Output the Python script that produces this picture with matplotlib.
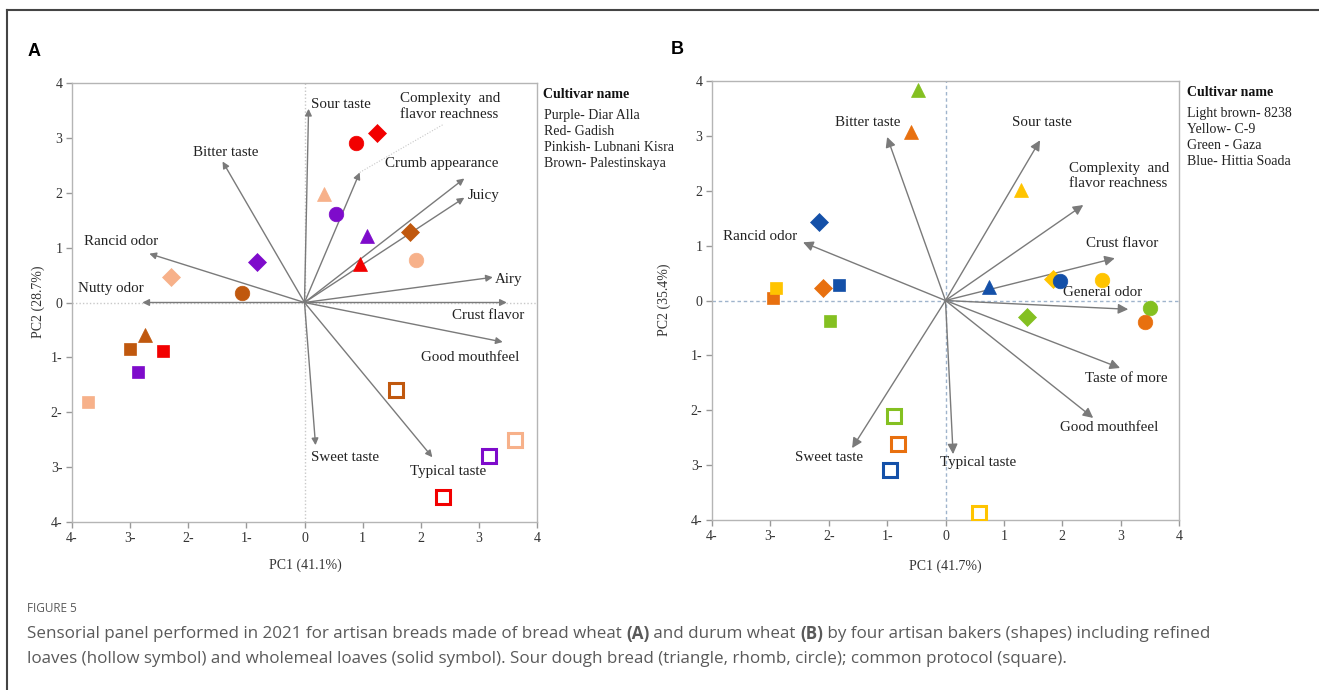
import matplotlib
matplotlib.use('Agg')
import matplotlib.pyplot as plt
from matplotlib.lines import Line2D

W, H = 1319, 690
SERIF = ['Liberation Serif', 'DejaVu Serif']
SANS = ['Open Sans', 'DejaVu Sans']

# ---- panel A data (bread wheat) ----
a_colors = {'purple': '#7E0BCB', 'red': '#F20000', 'pink': '#F7B18A', 'brown': '#C0580E'}
a_cult = ['red', 'red', 'pink', 'purple', 'purple', 'brown', 'red', 'pink', 'purple', 'pink',
          'brown', 'brown', 'brown', 'red', 'purple', 'pink', 'brown', 'pink', 'purple', 'red']
a_mark = ['D', 'o', '^', 'o', '^', 'D', '^', 'o', 'D', 'D',
          'o', '^', 's', 's', 's', 's', 's', 's', 's', 's']
a_hollow = [0] * 16 + [1, 1, 1, 1]
a_x = [1.25, 0.89, 0.34, 0.55, 1.07, 1.81, 0.96, 1.91, -0.81, -2.29,
       -1.07, -2.75, -3.01, -2.43, -2.87, -3.73, 1.58, 3.63, 3.18, 2.38]
a_y = [3.08, 2.90, 1.97, 1.62, 1.22, 1.28, 0.71, 0.78, 0.73, 0.47,
       0.18, -0.60, -0.84, -0.89, -1.27, -1.82, -1.59, -2.51, -2.80, -3.55]

a_var = ['Sour taste', 'Bitter taste', 'Rancid odor', 'Nutty odor', 'Complexity', 'Crumb appearance',
         'Juicy', 'Airy', 'Crust flavor', 'Good mouthfeel', 'Sweet taste', 'Typical taste']
a_vx = [0.07, -1.41, -2.67, -2.79, 0.95, 2.75, 2.75, 3.24, 3.48, 3.41, 0.19, 2.20]
a_vy = [3.53, 2.57, 0.89, 0.00, 2.37, 2.26, 1.91, 0.46, 0.00, -0.72, -2.60, -2.82]

# label text, x, y, ha
a_labels = [('Sour taste', 0.12, 3.61, 'left'),
            ('Complexity  and\nflavor reachness', 1.64, 3.57, 'left'),
            ('Bitter taste', -1.36, 2.73, 'center'),
            ('Crumb appearance', 1.39, 2.53, 'left'),
            ('Juicy', 2.80, 1.95, 'left'),
            ('Rancid odor', -3.80, 1.11, 'left'),
            ('Nutty odor', -3.89, 0.26, 'left'),
            ('Airy', 3.27, 0.42, 'left'),
            ('Crust flavor', 3.79, -0.24, 'right'),
            ('Good mouthfeel', 3.70, -1.00, 'right'),
            ('Sweet taste', 0.12, -2.82, 'left'),
            ('Typical taste', 1.81, -3.08, 'left')]
a_legend = ['Purple- Diar Alla', 'Red- Gadish', 'Pinkish- Lubnani Kisra', 'Brown- Palestinskaya']

# ---- panel B data (durum wheat) ----
b_colors = {'orange': '#E8700F', 'yellow': '#FFC400', 'green': '#84C021', 'blue': '#1450A8'}
b_cult = ['green', 'orange', 'blue', 'orange', 'yellow', 'orange', 'blue', 'green', 'green', 'orange',
          'blue', 'yellow', 'yellow', 'blue', 'yellow', 'blue', 'yellow', 'green', 'orange', 'green']
b_mark = ['^', '^', 'D', 's', 's', 'D', 's', 's', 's', 's',
          's', 's', '^', '^', 'D', 'o', 'o', 'o', 'o', 'D']
b_hollow = [0] * 8 + [1, 1, 1, 1] + [0] * 8
b_x = [-0.47, -0.59, -2.17, -2.95, -2.90, -2.10, -1.82, -1.98, -0.88, -0.81,
       -0.95, 0.57, 1.29, 0.75, 1.84, 1.96, 2.68, 3.50, 3.42, 1.39]
b_y = [3.83, 3.07, 1.43, 0.05, 0.23, 0.23, 0.28, -0.37, -2.10, -2.61,
       -3.09, -3.87, 2.01, 0.25, 0.39, 0.36, 0.37, -0.14, -0.39, -0.30]

b_var = ['Bitter taste', 'Rancid odor', 'Sour taste', 'Complexity', 'Crust flavor',
         'General odor', 'Taste of more', 'Good mouthfeel', 'Sweet taste', 'Typical taste']
b_vx = [-1.00, -2.44, 1.62, 2.36, 2.90, 3.13, 2.99, 2.53, -1.60, 0.13]
b_vy = [2.98, 1.06, 2.92, 1.74, 0.77, -0.16, -1.23, -2.14, -2.69, -2.80]

b_labels = [('Bitter taste', -1.89, 3.25, 'left'),
            ('Rancid odor', -3.81, 1.16, 'left'),
            ('Sour taste', 1.14, 3.25, 'left'),
            ('Complexity  and\nflavor reachness', 2.11, 2.27, 'left'),
            ('Crust flavor', 2.41, 1.03, 'left'),
            ('General odor', 2.01, 0.14, 'left'),
            ('Taste of more', 2.39, -1.43, 'left'),
            ('Good mouthfeel', 1.96, -2.32, 'left'),
            ('Sweet taste', -2.58, -2.87, 'left'),
            ('Typical taste', -0.09, -2.96, 'left')]
b_legend = ['Light brown- 8238', 'Yellow- C-9', 'Green - Gaza', 'Blue- Hittia Soada']

ticks = [-4, -3, -2, -1, 0, 1, 2, 3, 4]
tick_labels = ['4-', '3-', '2-', '1-', '0', '1', '2', '3', '4']
ytick_labels = tick_labels


def fx(px):
    return px / W


def fy(py):
    return 1 - py / H


fig = plt.figure(figsize=(W / 100, H / 100), dpi=100)

# outer frame lines of the figure box
fig.add_artist(Line2D([fx(7), fx(7)], [0, fy(10)], color='#444444', lw=1.5))
fig.add_artist(Line2D([fx(7), 1], [fy(10), fy(10)], color='#444444', lw=1.5))


def make_axes(rect, cols, cult, mark, hollow, xs, ys, vx, vy, labels, head, zcolor, zstyle):
    ax = fig.add_axes(rect)
    ax.set_xlim(-4, 4)
    ax.set_ylim(-4, 4)
    for s in ax.spines.values():
        s.set_color('#b5b5b5')
        s.set_linewidth(1.0)
    ax.set_xticks(ticks)
    ax.set_xticklabels(tick_labels, fontfamily=SERIF, fontsize=10)
    ax.set_yticks(ticks)
    ax.set_yticklabels(ytick_labels, fontfamily=SERIF, fontsize=10)
    ax.tick_params(colors='#333333', length=4, width=1, pad=3)
    ax.tick_params(axis='both', color='#999999')
    ax.axhline(0, color=zcolor, lw=1, ls=zstyle, zorder=1)
    ax.axvline(0, color=zcolor, lw=1, ls=zstyle, zorder=1)

    for dx, dy in zip(vx, vy):
        ax.annotate('', xy=(dx, dy), xytext=(0, 0),
                    arrowprops=dict(arrowstyle='-|>', color='#7a7a7a', lw=1.0,
                                    mutation_scale=head, shrinkA=0, shrinkB=0),
                    zorder=2)
    for txt, tx, ty, ha in labels:
        ax.text(tx, ty, txt, ha=ha, va='center', fontfamily=SERIF, fontsize=10.8,
                color='#222222', linespacing=1.25, zorder=3)

    sizes = {'s': 9, 'o': 10.5, '^': 10, 'D': 9}
    for c, m, h, x, y in zip(cult, mark, hollow, xs, ys):
        if h:
            ax.plot(x, y, marker='s', ms=10, mfc='white', mec=cols[c], mew=2.2,
                    ls='none', zorder=4)
        else:
            ax.plot(x, y, marker=m, ms=sizes[m], mfc=cols[c], mec=cols[c], mew=0.5,
                    ls='none', zorder=4)
    return ax


axA = make_axes([fx(72), fy(522), fx(537) - fx(72), fy(83) - fy(522)],
                a_colors, a_cult, a_mark, a_hollow, a_x, a_y, a_vx, a_vy, a_labels,
                10, '#c8c8c8', (0, (1, 1.5)))
# leader line from the complexity arrow to its label
axA.plot([a_vx[4], 2.38], [a_vy[4], 3.24], color='#c8c8c8', lw=0.8, ls=(0, (1, 1.5)), zorder=1)

axB = make_axes([fx(712), fy(520), fx(1179) - fx(712), fy(81) - fy(520)],
                b_colors, b_cult, b_mark, b_hollow, b_x, b_y, b_vx, b_vy, b_labels,
                15, '#9fb4cc', (0, (2.5, 2)))

# axis titles
fig.text(fx(305), fy(565), 'PC1 (41.1%)', ha='center', va='center', fontfamily=SERIF, fontsize=10, color='#333333')
fig.text(fx(38), fy(302), 'PC2 (28.7%)', ha='center', va='center', rotation=90, fontfamily=SERIF, fontsize=10, color='#333333')
fig.text(fx(945), fy(566), 'PC1 (41.7%)', ha='center', va='center', fontfamily=SERIF, fontsize=10, color='#333333')
fig.text(fx(664), fy(300), 'PC2 (35.4%)', ha='center', va='center', rotation=90, fontfamily=SERIF, fontsize=10, color='#333333')

# panel letters
fig.text(fx(28), fy(52), 'A', ha='left', va='center', fontfamily=['Liberation Sans', 'DejaVu Sans'],
         fontweight='bold', fontsize=13)
fig.text(fx(671), fy(50), 'B', ha='left', va='center', fontfamily=['Liberation Sans', 'DejaVu Sans'],
         fontweight='bold', fontsize=13)

# cultivar legends
fig.text(fx(543), fy(94), 'Cultivar name', ha='left', va='center', fontfamily=SERIF, fontweight='bold',
         fontsize=10, color='#111111')
for i, t in enumerate(a_legend):
    fig.text(fx(544), fy(115 + 16.2 * i), t, ha='left', va='center', fontfamily=SERIF, fontsize=10, color='#222222')
fig.text(fx(1187), fy(92), 'Cultivar name', ha='left', va='center', fontfamily=SERIF, fontweight='bold',
         fontsize=10, color='#111111')
for i, t in enumerate(b_legend):
    fig.text(fx(1187), fy(113 + 16.3 * i), t, ha='left', va='center', fontfamily=SERIF, fontsize=10, color='#222222')

# caption
cap_col = '#5a5a5a'
fig.text(fx(27), fy(609), 'FIGURE 5', ha='left', va='center', fontfamily=SANS, fontsize=8.5, color=cap_col)

line1 = [('Sensorial panel performed in 2021 for artisan breads made of bread wheat ', 'normal'),
         ('(A)', 'bold'), (' and durum wheat ', 'normal'), ('(B)', 'bold'),
         (' by four artisan bakers (shapes) including refined', 'normal')]
line2 = [('loaves (hollow symbol) and wholemeal loaves (solid symbol). Sour dough bread (triangle, rhomb, circle); common protocol (square).', 'normal')]

fig.canvas.draw()
renderer = fig.canvas.get_renderer()

# find a caption size so the first line spans about the same width as in the source
base = 10.0
probe = 0
for s, w in line1:
    t = fig.text(0, 0, s, fontfamily=SANS, fontsize=base, fontweight=w)
    probe += t.get_window_extent(renderer).width
    t.remove()
cap_size = base * 1180 / probe

for segs, py in [(line1, 634), (line2, 659)]:
    x = 27
    for s, w in segs:
        t = fig.text(fx(x), fy(py), s, ha='left', va='center', fontfamily=SANS, fontsize=cap_size,
                     fontweight=w, color=cap_col)
        bb = t.get_window_extent(renderer)
        x += bb.width

fig.savefig('out.png', dpi=100)
